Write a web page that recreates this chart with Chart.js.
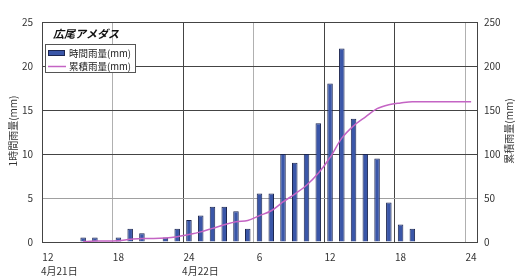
<!DOCTYPE html>
<html><head><meta charset="utf-8">
<script src="https://cdn.jsdelivr.net/npm/chart.js@4/dist/chart.umd.min.js"></script>
<style>html,body{margin:0;padding:0;background:#fff;}#wrap{width:525px;height:280px;position:relative;}</style>
</head><body><div id="wrap"><canvas id="c" width="525" height="280"></canvas></div>
<script>
// hour categories from 4/21 12:00 to 4/23 00:00 (24 = midnight)
const hours = [12,13,14,15,16,17,18,19,20,21,22,23,24,1,2,3,4,5,6,7,8,9,10,11,12,13,14,15,16,17,18,19,20,21,22,23,24];
// hourly rainfall (mm)
const hourlyRain = [0,0,0,0.5,0.5,0,0.5,1.5,1,0,0.5,1.5,2.5,3,4,4,3.5,1.5,5.5,5.5,10,9,10,13.5,18,22,14,10,9.5,4.5,2,1.5,0,0,0,0,0];
// cumulative rainfall (mm)
const cumulativeRain = [null,null,null,0.5,1,1,1.5,3,4,4,4.5,6,8.5,11.5,15.5,19.5,23,24.5,30,35.5,45.5,54.5,64.5,78,96,118,132,142,151.5,156,158,159.5,159.5,159.5,159.5,159.5,159.5];
const dateLabels = ['4月21日','4月22日'];
const dateLabelIndex = [0, 12];
const leftTicks = [0,5,10,15,20,25];
const rightTicks = [0,50,100,150,200,250];
const titleText = '広尾アメダス';
const seriesNames = ['時間雨量(mm)','累積雨量(mm)'];
const leftAxisTitle = '1時間雨量(mm)';
const rightAxisTitle = '累積雨量(mm)';

const FONT = '"Noto Sans CJK JP", "Noto Sans", sans-serif';
const BAR_FILL = '#3a56a8', BAR_EDGE = '#1c2650', LINE_COL = '#c464c4';

const overlay = {
  id: 'overlay',
  afterDraw(chart) {
    const ctx = chart.ctx, x = chart.scales.x;
    ctx.save();
    // title
    ctx.fillStyle = '#111';
    ctx.font = 'italic bold 11px ' + FONT;
    ctx.textBaseline = 'middle'; ctx.textAlign = 'left';
    ctx.fillText(titleText, 53, 34);
    // legend
    ctx.fillStyle = '#fff';
    ctx.fillRect(45, 44, 90, 28);
    ctx.strokeStyle = '#555'; ctx.lineWidth = 1;
    ctx.strokeRect(45.5, 44.5, 90, 28);
    ctx.fillStyle = BAR_FILL; ctx.fillRect(48, 50, 17, 6);
    ctx.strokeStyle = BAR_EDGE; ctx.strokeRect(48.5, 50.5, 16, 5);
    ctx.strokeStyle = LINE_COL; ctx.lineWidth = 1.5;
    ctx.beginPath(); ctx.moveTo(48, 66.5); ctx.lineTo(66, 66.5); ctx.stroke();
    ctx.fillStyle = '#222'; ctx.font = '9.5px ' + FONT;
    ctx.fillText(seriesNames[0], 69, 53.5);
    ctx.fillText(seriesNames[1], 69, 66.5);
    // date labels under axis
    ctx.font = '10px ' + FONT;
    ctx.fillStyle = '#333';
    const half = (x.getPixelForValue(1) - x.getPixelForValue(0)) / 2;
    dateLabels.forEach((t, i) => {
      ctx.fillText(t, x.getPixelForValue(dateLabelIndex[i]) - half - 1, 271);
    });
    // axis titles (both read bottom to top)
    ctx.textAlign = 'center';
    ctx.save(); ctx.translate(13, 131); ctx.rotate(-Math.PI/2);
    ctx.fillText(leftAxisTitle, 0, 0); ctx.restore();
    ctx.save(); ctx.translate(509, 131); ctx.rotate(-Math.PI/2);
    ctx.fillText(rightAxisTitle, 0, 0); ctx.restore();
    ctx.restore();
  }
};

new Chart(document.getElementById('c'), {
  data: {
    labels: hours.map(String),
    datasets: [
      { type: 'line', label: seriesNames[1], data: cumulativeRain, yAxisID: 'y2', order: 0,
        borderColor: LINE_COL, borderWidth: 1.5, pointRadius: 0, fill: false,
        cubicInterpolationMode: 'monotone', spanGaps: false },
      { type: 'bar', label: seriesNames[0], data: hourlyRain, yAxisID: 'y', order: 1,
        backgroundColor: BAR_FILL, borderColor: BAR_EDGE,
        borderWidth: c => (c.raw ? 1 : 0), borderSkipped: 'start',
        barPercentage: 0.47, categoryPercentage: 1 }
    ]
  },
  options: {
    responsive: false, animation: false, devicePixelRatio: 1,
    layout: { padding: { top: 22, left: 0, right: 0, bottom: 0 } },
    plugins: { legend: { display: false }, tooltip: { enabled: false } },
    scales: {
      x: {
        type: 'category', offset: true,
        grid: { offset: true, drawTicks: false,
          color: c => { const i = c.index; if (i % 6 !== 0 || i === 0) return 'rgba(0,0,0,0)';
            return (i === 12 || i === 24 || i === 30) ? '#444' : '#b0b0b0'; } },
        border: { display: true, color: '#444' },
        ticks: { autoSkip: false, maxRotation: 0, padding: 9, color: '#333',
          font: { family: FONT, size: 10 },
          callback: (v, i) => (i % 6 === 0 ? String(hours[i]) : '') },
        afterFit: s => { s.height = 38; }
      },
      y: {
        position: 'left', min: 0, max: 25,
        afterBuildTicks: s => { s.ticks = leftTicks.map(v => ({ value: v })); },
        grid: { drawTicks: false, color: c => (c.tick && c.tick.value === 5 ? '#a0a0a0' : '#444') },
        border: { display: true, color: '#444' },
        ticks: { padding: 9, color: '#333', font: { family: FONT, size: 10 } },
        afterFit: s => { s.width = 42; }
      },
      y2: {
        position: 'right', min: 0, max: 250,
        afterBuildTicks: s => { s.ticks = rightTicks.map(v => ({ value: v })); },
        grid: { drawOnChartArea: false, drawTicks: false },
        border: { display: true, color: '#444' },
        ticks: { padding: 7, color: '#333', font: { family: FONT, size: 10 } },
        afterFit: s => { s.width = 48; }
      }
    }
  },
  plugins: [overlay]
});
</script>
</body></html>
